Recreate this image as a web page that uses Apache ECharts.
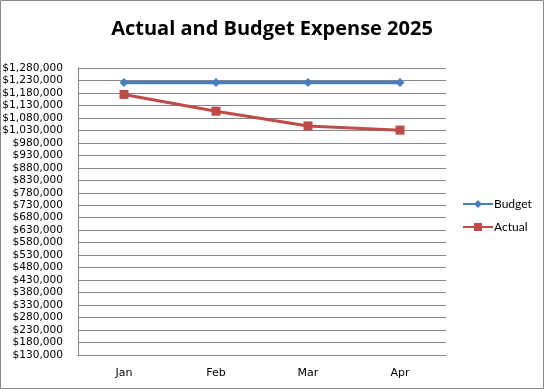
<!DOCTYPE html>
<html><head><meta charset="utf-8">
<script src="https://cdn.jsdelivr.net/npm/echarts@6/dist/echarts.min.js"></script>
<style>html,body{margin:0;padding:0;background:#fff}#c{width:544px;height:389px}</style>
</head><body><div id="c"></div>
<script>
const categories = ['Jan', 'Feb', 'Mar', 'Apr'];
const budget = [1222000, 1222000, 1222000, 1222000];
const actual = [1174000, 1107000, 1048000, 1031000];
const yMin = 130000, yMax = 1280000, yStep = 50000;

const chart = echarts.init(document.getElementById('c'), null, {renderer: 'canvas'});
chart.setOption({
  animation: false,
  title: {
    text: 'Actual and Budget Expense 2025', left: 'center', top: 14,
    textStyle: {fontFamily: 'Open Sans', fontWeight: 'bold', fontSize: 20, color: '#000'}
  },
  graphic: [{type: 'rect', shape: {x: 0.5, y: 0.5, width: 543, height: 388},
    style: {fill: 'none', stroke: '#888', lineWidth: 1}, silent: true}],
  legend: {
    orient: 'vertical', left: 457, top: 193, itemGap: 11, itemWidth: 30, itemHeight: 10,
    textStyle: {fontFamily: 'Lato', fontSize: 12, color: '#000', padding: [0,0,0,-4]},
    data: ['Budget', 'Actual']
  },
  grid: {left: 78, right: 98, top: 68, bottom: 34, containLabel: false, outerBoundsMode: 'none'},
  xAxis: {
    type: 'category', data: categories, boundaryGap: true,
    axisLine: {show: true, lineStyle: {color: '#868686'}},
    axisTick: {show: false},
    axisLabel: {fontFamily: 'DejaVu Sans', fontSize: 11, color: '#000', margin: 13}
  },
  yAxis: {
    type: 'value', min: yMin, max: yMax, interval: yStep,
    axisLine: {show: true, lineStyle: {color: '#868686'}},
    axisTick: {show: false},
    splitLine: {lineStyle: {color: '#868686', width: 1}},
    axisLabel: {fontFamily: 'DejaVu Sans', fontSize: 10.6, color: '#000', margin: 15,
      formatter: v => '$' + v.toLocaleString('en-US')}
  },
  series: [
    {name: 'Budget', type: 'line', data: budget, symbol: 'diamond', symbolSize: 9,
      lineStyle: {color: '#4A7EBB', width: 3.5}, itemStyle: {color: '#4A7EBB'}},
    {name: 'Actual', type: 'line', data: actual, symbol: 'rect', symbolSize: 9,
      lineStyle: {color: '#BE4B48', width: 3}, itemStyle: {color: '#BE4B48'}}
  ]
});
</script></body></html>
